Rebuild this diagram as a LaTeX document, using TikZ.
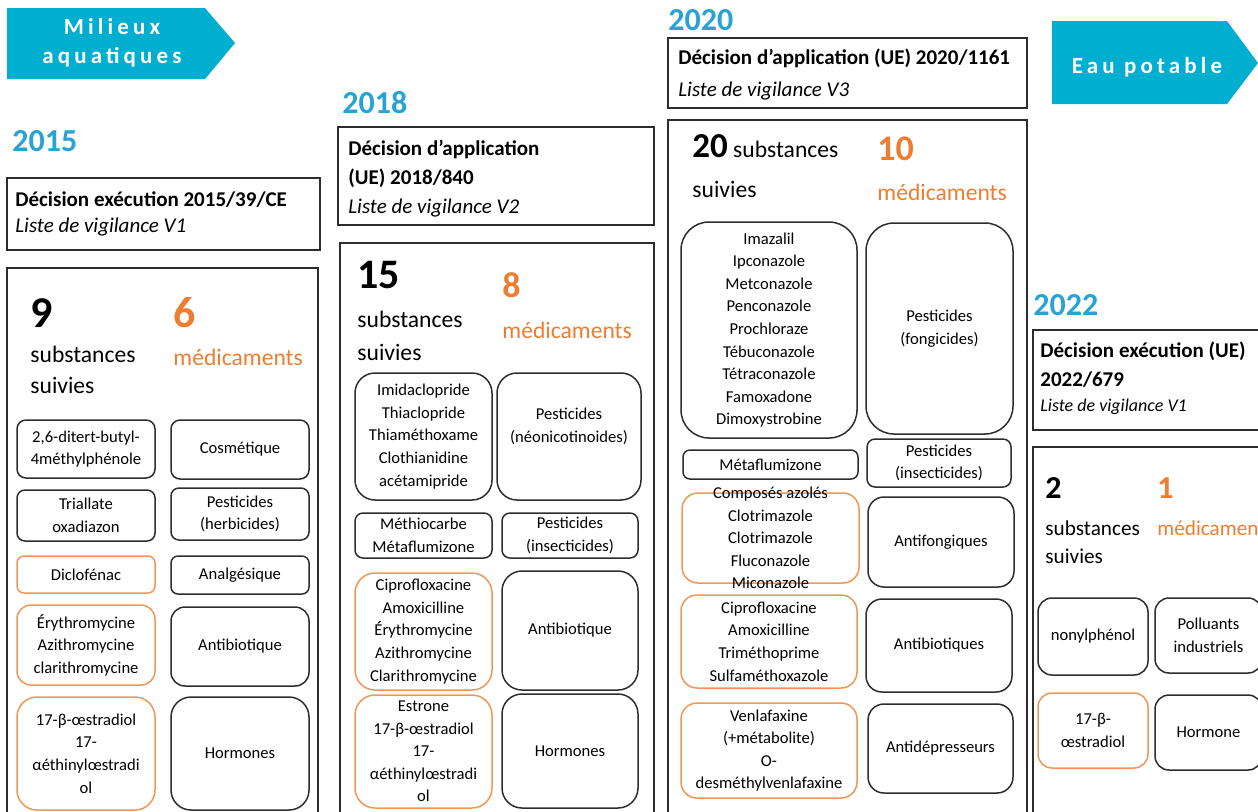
\documentclass[tikz,border=0pt]{standalone}
\usepackage{fontspec}
\setmainfont{Carlito}
\newfontfamily\arrowlabelfont[LetterSpace=18]{Carlito}
\usetikzlibrary{fit}
\definecolor{tagblue}{RGB}{0,174,207}
\definecolor{yearblue}{RGB}{40,163,212}
\definecolor{drugorange}{RGB}{237,125,49}
\definecolor{drugline}{RGB}{241,150,85}
\definecolor{boxline}{RGB}{45,45,45}
\newcommand{\cellfont}{\fontsize{8.3}{11.3}\selectfont}
\newcommand{\decfont}{\fontsize{10.5}{15.5}\selectfont}
\newcommand{\countfont}{\fontsize{11.8}{16}\selectfont}
\newcommand{\yearfont}{\fontsize{16}{16}\selectfont\bfseries}

\tikzset{
  celltext/.style={inner sep=0pt, align=center, font=\cellfont},
  cell/.style={draw=boxline, line width=0.75pt, rounded corners=4.5pt, inner sep=0pt},
  drugcell/.style={cell, draw=drugline},
  panel/.style={draw=boxline, line width=1pt, inner sep=0pt},
  year/.style={anchor=base west, inner sep=0pt, text=yearblue, font=\yearfont},
  txt/.style={anchor=base west, inner sep=0pt},
  orangetxt/.style={txt, text=drugorange},
  tag/.style={inner sep=0pt, text=white, align=center, font={\arrowlabelfont\bfseries\fontsize{11.5}{14.5}\selectfont}},
}

\begin{document}
\begin{tikzpicture}[x=0.5pt, y=-0.5pt]
\useasboundingbox (0,0) rectangle (1258,811);
\clip (0,0) rectangle (1258,811);
%arrows
\fill[tagblue] (7,8) -- (205,8) -- (235,43) -- (205,79) -- (7,79) -- cycle;
\node[tag] (milieux) at (112,43) {Milieux\\aquatiques};
\fill[tagblue] (1052,21) -- (1227,21) -- (1258,63) -- (1227,104) -- (1052,104) -- cycle;
\node[tag, anchor=base] (eau) at (1147,73) {Eau potable};
%2015
\node[year] (y15) at (12,151) {2015};
\node[panel, fit={(7,178) (320,250)}] (d15) {};
\node[txt, font=\decfont] (d15a) at (15,206) {\bfseries Décision exécution 2015/39/CE};
\node[txt, font=\decfont] (d15b) at (15,232) {\itshape Liste de vigilance V1};
\node[panel, fit={(7,268) (318,830)}] (p15) {};
\node[txt, font={\bfseries\fontsize{22}{22}\selectfont}] (n15) at (30,327) {9};
\node[txt, font=\countfont] (s15a) at (30,362) {substances};
\node[txt, font=\countfont] (s15b) at (30,393) {suivies};
\node[orangetxt, font={\bfseries\fontsize{22}{22}\selectfont}] (m15) at (173,327) {6};
\node[orangetxt, font=\countfont] (m15a) at (173,365) {médicaments};
\node[cell, fit={(17,420) (155,478)}, label={[celltext]center:{2,6-ditert-butyl-\\4méthylphénole}}] (c15s1) {};
\node[cell, fit={(171,420) (309,479)}, label={[celltext]center:Cosmétique}] (c15m1) {};
\node[cell, rounded corners=4pt, fit={(17,490) (155,541)}, label={[celltext]center:{Triallate\\oxadiazon}}] (c15s2) {};
\node[cell, rounded corners=4pt, fit={(171,488) (309,540)}, label={[celltext]center:{Pesticides\\(herbicides)}}] (c15m2) {};
\node[drugcell, rounded corners=3.5pt, fit={(17,556) (155,593)}, label={[celltext]center:Diclofénac}] (c15s3) {};
\node[cell, rounded corners=3.5pt, fit={(171,556) (309,594)}, label={[celltext]center:Analgésique}] (c15m3) {};
\node[drugcell, rounded corners=7pt, fit={(17,605) (155,685)}, label={[celltext]center:{Érythromycine\\Azithromycine\\clarithromycine}}] (c15s4) {};
\node[cell, rounded corners=7pt, fit={(171,607) (309,686)}, label={[celltext]center:Antibiotique}] (c15m4) {};
\node[drugcell, rounded corners=10pt, fit={(17,697) (155,810)}, label={[celltext]center:{17-β-œstradiol\\17-\\αéthinylœstradi\\ol}}] (c15s5) {};
\node[cell, rounded corners=10pt, fit={(171,697) (309,810)}, label={[celltext]center:Hormones}] (c15m5) {};
%2018
\node[year] (y18) at (342,113) {2018};
\node[panel, fit={(338,127) (654,225)}] (d18) {};
\node[txt, font=\decfont] (d18a) at (348,155) {\bfseries Décision d’application};
\node[txt, font=\decfont] (d18b) at (348,184) {\bfseries (UE) 2018/840};
\node[txt, font=\decfont] (d18c) at (348,213) {\itshape Liste de vigilance V2};
\node[panel, fit={(340,243) (654,830)}] (p18) {};
\node[txt, font={\bfseries\fontsize{21}{21}\selectfont}] (n18) at (357,288) {15};
\node[txt, font=\countfont] (s18a) at (357,327) {substances};
\node[txt, font=\countfont] (s18b) at (357,360) {suivies};
\node[orangetxt, font={\bfseries\fontsize{18}{18}\selectfont}] (m18) at (502,297) {8};
\node[orangetxt, font=\countfont] (m18a) at (502,338) {médicaments};
\node[cell, rounded corners=10pt, fit={(355,373) (492,500)}, label={[celltext]center:{Imidaclopride\\Thiaclopride\\Thiaméthoxame\\Clothianidine\\acétamipride}}] (c18s1) {};
\node[cell, rounded corners=10pt, fit={(497,373) (641,500)}, label={[celltext, yshift=5pt]center:{Pesticides\\(néonicotinoides)}}] (c18m1) {};
\node[cell, rounded corners=4pt, fit={(355,513) (492,558)}, label={[celltext]center:{Méthiocarbe\\Métaflumizone}}] (c18s2) {};
\node[cell, rounded corners=4pt, fit={(502,513) (638,558)}, label={[celltext]center:{Pesticides\\(insecticides)}}] (c18m2) {};
\node[drugcell, rounded corners=10pt, fit={(355,573) (492,690)}, label={[celltext]center:{Ciprofloxacine\\Amoxicilline\\Érythromycine\\Azithromycine\\Clarithromycine}}] (c18s3) {};
\node[cell, rounded corners=10pt, fit={(502,571) (638,690)}, label={[celltext]center:Antibiotique}] (c18m3) {};
\node[drugcell, rounded corners=10pt, fit={(355,695) (492,808)}, label={[celltext]center:{Estrone\\17-β-œstradiol\\17-\\αéthinylœstradi\\ol}}] (c18s4) {};
\node[cell, rounded corners=10pt, fit={(502,694) (638,808)}, label={[celltext]center:Hormones}] (c18m4) {};
%2020
\node[year] (y20) at (668,30) {2020};
\node[panel, fit={(668,38) (1027,108)}] (d20) {};
\node[txt, font=\decfont] (d20a) at (678,64) {\bfseries Décision d’application (UE) 2020/1161};
\node[txt, font=\decfont] (d20b) at (678,96) {\itshape Liste de vigilance V3};
\node[panel, fit={(668,120) (1027,830)}] (p20) {};
\node[txt, font=\countfont] (n20) at (692,157) {{\bfseries\fontsize{17.5}{17.5}\selectfont 20} substances};
\node[txt, font=\countfont] (s20b) at (692,197) {suivies};
\node[orangetxt, font={\bfseries\fontsize{18}{18}\selectfont}] (m20) at (877,160) {10};
\node[orangetxt, font=\countfont] (m20a) at (877,200) {médicaments};
\node[cell, rounded corners=14pt, fit={(681,222) (857,438)}, label={[celltext]center:{Imazalil\\Ipconazole\\Metconazole\\Penconazole\\Prochloraze\\Tébuconazole\\Tétraconazole\\Famoxadone\\Dimoxystrobine}}] (c20s1) {};
\node[cell, rounded corners=14pt, fit={(866,223) (1013,434)}, label={[celltext]center:{Pesticides\\(fongicides)}}] (c20m1) {};
\node[cell, rounded corners=3.5pt, fit={(683,450) (858,479)}, label={[celltext]center:Métaflumizone}] (c20s2) {};
\node[cell, rounded corners=4pt, fit={(867,439) (1011,487)}, label={[celltext]center:{Pesticides\\(insecticides)}}] (c20m2) {};
\node[drugcell, rounded corners=8pt, fit={(682,493) (859,583)}, label={[celltext]center:{Composés azolés\\Clotrimazole\\Clotrimazole\\Fluconazole\\Miconazole}}] (c20s3) {};
\node[cell, rounded corners=8pt, fit={(868,497) (1014,587)}, label={[celltext]center:Antifongiques}] (c20m3) {};
\node[drugcell, rounded corners=8pt, fit={(681,595) (857,688)}, label={[celltext]center:{Ciprofloxacine\\Amoxicilline\\Triméthoprime\\Sulfaméthoxazole}}] (c20s4) {};
\node[cell, rounded corners=8pt, fit={(866,599) (1012,692)}, label={[celltext]center:Antibiotiques}] (c20m4) {};
\node[drugcell, rounded corners=8pt, fit={(681,703) (857,798)}, label={[celltext]center:{Venlafaxine\\(+métabolite)\\O-\\desméthylvenlafaxine}}] (c20s5) {};
\node[cell, rounded corners=8pt, fit={(868,704) (1013,793)}, label={[celltext]center:Antidépresseurs}] (c20m5) {};
%2022
\node[year] (y22) at (1033,315) {2022};
\node[panel, fit={(1033,330) (1270,430)}] (d22) {};
\node[txt, font=\decfont] (d22a) at (1040,357) {\bfseries Décision exécution (UE)};
\node[txt, font=\decfont] (d22b) at (1040,386) {\bfseries 2022/679};
\node[txt, font={\fontsize{9}{9}\selectfont\itshape}] (d22c) at (1040,411) {Liste de vigilance V1};
\node[panel, fit={(1033,447) (1270,830)}] (p22) {};
\node[txt, font={\bfseries\fontsize{16}{16}\selectfont}] (n22) at (1045,498) {2};
\node[txt, font={\fontsize{10.6}{10.6}\selectfont}] (s22a) at (1045,535) {substances};
\node[txt, font={\fontsize{10.6}{10.6}\selectfont}] (s22b) at (1045,563) {suivies};
\node[orangetxt, font={\bfseries\fontsize{16}{16}\selectfont}] (m22) at (1157,498) {1};
\node[orangetxt, font={\fontsize{10.6}{10.6}\selectfont}] (m22a) at (1157,535) {médicaments};
\node[cell, rounded corners=7pt, fit={(1038,598) (1148,675)}, label={[celltext]center:nonylphénol}] (c22s1) {};
\node[cell, rounded corners=7pt, fit={(1155,598) (1262,673)}, label={[celltext]center:{Polluants\\industriels}}] (c22m1) {};
\node[drugcell, rounded corners=7pt, fit={(1038,693) (1148,768)}, label={[celltext]center:{17-β-\\œstradiol}}] (c22s2) {};
\node[cell, rounded corners=7pt, fit={(1155,695) (1262,770)}, label={[celltext]center:Hormone}] (c22m2) {};
\end{tikzpicture}
\end{document}
